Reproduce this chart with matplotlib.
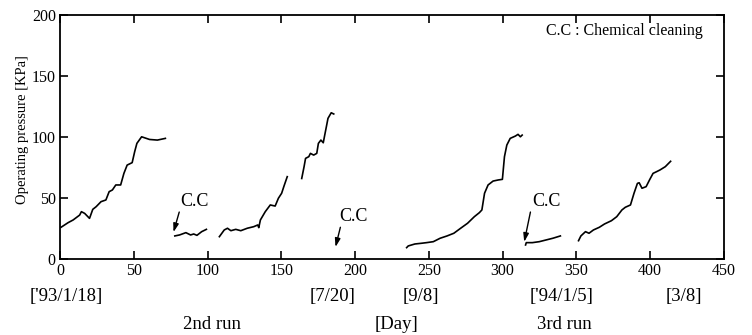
import numpy as np
import matplotlib
matplotlib.use("Agg")
import matplotlib.pyplot as plt

plt.rcParams['font.family'] = ['Liberation Serif', 'DejaVu Serif']

# run 1 ('93/1/18 start)
d1 = [0.7, 5.5, 8.9, 13.3, 14.5, 16.7, 20, 22.2, 24.5, 27.8, 31.1, 33.3, 35.5, 37.8,
      41.1, 43.3, 45.5, 48.9, 50.6, 52.1, 55.3, 60.7, 66, 71.4]
p1 = [26, 29.8, 32, 36, 38.8, 37.4, 33.3, 40.7, 42.9, 47, 48.4, 55.2, 56.6, 60.7,
      60.7, 70.2, 77, 79, 88, 94.8, 100.2, 98, 97.5, 98.9]
# after first chemical cleaning
d2 = [77.8, 81, 85.3, 88.5, 90.6, 92.8, 96, 99.2]
p2 = [18.9, 19.7, 21.6, 19.7, 20.5, 19.4, 22.4, 24.3]
d3 = [108, 111.3, 113.5, 115.8, 119.1, 122.5, 126.9, 131.3, 134, 134.7, 135.8, 139.1,
      142.5, 145.8, 148, 150.2, 151.8, 154]
p3 = [18.3, 23.8, 25.2, 23.2, 24.3, 23.2, 25.2, 26.5, 27.9, 25.7, 32, 38.8,
      44.3, 43.4, 49.8, 53.9, 59.8, 67.5]
d4 = [163.8, 165.4, 166.4, 168.6, 169.7, 171.9, 174, 175.1, 176.8, 178.4, 179.4,
      180.5, 181.6, 183.8, 185.5]
p4 = [66, 75.7, 82.5, 83.9, 86.6, 85.2, 86.6, 94.8, 97.5, 95.3, 101.6,
      108.4, 115.3, 119.9, 118.9]
# 2nd run
d5 = [234.9, 236, 240.5, 245, 248.4, 253, 257.6, 262.3, 266.9, 271.5, 276.2, 280.8,
      284.2, 285.9, 287.7, 290.1, 293.5, 297, 299.8, 301.2, 302.8, 305.1, 308.6,
      310.4, 312, 313.2]
p5 = [9.3, 10.7, 12.3, 12.9, 13.4, 14.2, 17, 18.9, 21.1, 25.2, 29.3, 34.7,
      38, 40.2, 53.9, 60.7, 63.9, 64.8, 65.3, 83.9, 93.4, 98.9, 100.8,
      102.2, 100.2, 101.6]
d6 = [315.5, 316, 320.1, 324.8, 329.4, 334, 339.1]
p6 = [11.5, 13.4, 13.4, 14.2, 15.6, 17, 18.9]
# 3rd run
d7 = [351.4, 353, 356.1, 358.5, 361.5, 365.5, 369, 373.7, 377.3, 380.8, 383.1, 386.6,
      389, 391.3, 392.5, 394.4, 397.2, 399.5, 401.9, 404.3, 406.6, 410.2, 413.8]
p7 = [15, 18.9, 22.4, 21.1, 23.8, 26, 28.7, 31.4, 34.7, 40.2, 42.4, 44.3,
      53.9, 62, 62.5, 58, 59.3, 64.8, 70.2, 71.6, 73, 75.7, 80.1]

segments = [(d1, p1), (d2, p2), (d3, p3), (d4, p4), (d5, p5), (d6, p6), (d7, p7)]

# chemical cleaning arrows: text pos, arrow tail, arrow head
cc_text = [(91, 47), (199, 35), (329.5, 47.5)]
cc_tail = [(80.8, 38.5), (190, 26), (318.8, 38.5)]
cc_head = [(76.9, 22), (186.7, 9.8), (314.6, 14)]

date_pos = [4, 185, 244.6, 340, 423]
date_labels = ["['93/1/18]", "[7/20]", "[9/8]", "['94/1/5]", "[3/8]"]
run_pos = [103, 227.7, 341.5]
run_labels = ["2nd run", "[Day]", "3rd run"]

fig = plt.figure(figsize=(7.52, 3.35), dpi=100)
ax = fig.add_axes([0.0798, 0.2269, 0.8830, 0.7281])

for d, p in segments:
    ax.plot(d, p, color='black', lw=1.2)

for t, s, h in zip(cc_text, cc_tail, cc_head):
    ax.text(t[0], t[1], "C.C", ha='center', va='center', fontsize=13)
    ax.annotate("", xy=h, xytext=s,
                arrowprops=dict(arrowstyle='-|>,head_length=0.5,head_width=0.16',
                                color='black', lw=1.0, shrinkA=0, shrinkB=0))

ax.text(435.7, 187, "C.C : Chemical cleaning", ha='right', va='center', fontsize=11.5)

ax.set_xlim(0, 450)
ax.set_ylim(0, 200)
ax.set_xticks(np.arange(0, 451, 50))
ax.set_yticks(np.arange(0, 201, 50))
ax.tick_params(direction='in', length=6, width=1.2, top=True, right=True,
               labelsize=11.5, pad=3)
for sp in ax.spines.values():
    sp.set_linewidth(1.3)
ax.set_ylabel("Operating pressure [KPa]", fontsize=10.5, labelpad=2)
ax.yaxis.set_label_coords(-0.047, 0.53)

trans = ax.get_xaxis_transform()
for x, lab in zip(date_pos, date_labels):
    ax.text(x, -0.155, lab, transform=trans, ha='center', va='center', fontsize=13.5)
for x, lab in zip(run_pos, run_labels):
    ax.text(x, -0.27, lab, transform=trans, ha='center', va='center', fontsize=13.5)

fig.savefig("out.png", dpi=100)
